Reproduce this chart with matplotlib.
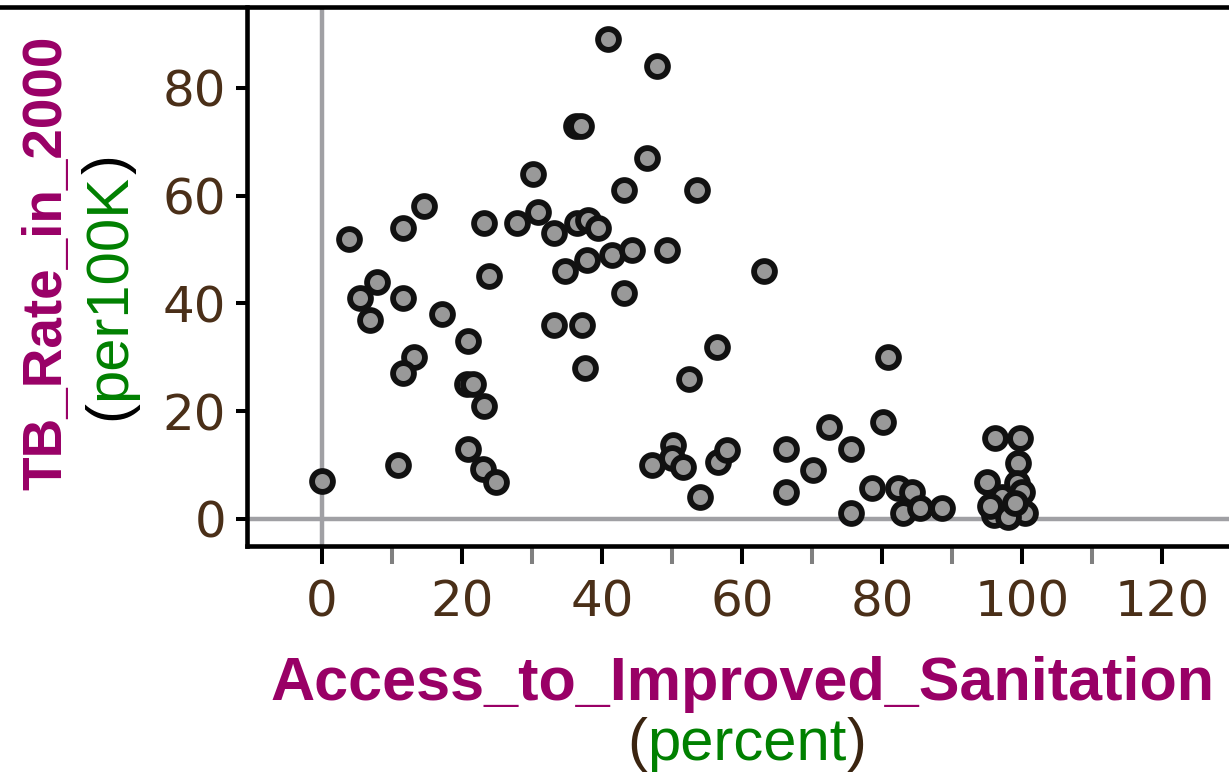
import matplotlib
matplotlib.use("Agg")
import matplotlib.pyplot as plt
from matplotlib.lines import Line2D
from matplotlib.ticker import FixedLocator

# ---- data ----
sanitation = [0, 3.9, 5.4, 7.8, 6.9, 11.6, 11.6, 14.6, 13.1, 11.6, 10.9, 17.1,
              20.9, 20.7, 21.6, 23.1, 20.9, 23.0, 24.9, 23.1, 23.9, 27.8, 30.1,
              30.9, 33.1, 33.1, 34.7, 36.3, 37.0, 36.4, 38.0, 39.4, 37.1, 37.6,
              37.8, 40.9, 41.4, 43.1, 43.1, 44.3, 46.4, 47.8, 47.1, 49.3, 50.1,
              50.0, 51.6, 52.4, 53.6, 54.0, 56.4, 56.6, 57.9, 63.1, 66.3, 66.3,
              70.1, 72.4, 75.6, 75.6, 78.6, 80.1, 80.9, 82.3, 84.3, 83.0, 85.4,
              88.6, 96.1, 99.7, 99.4, 95.0, 97.1, 100.4, 99.3, 100.0, 96.0, 98.0,
              95.5, 99.0]
tb_rate = [7, 52, 41, 44, 37, 54, 41, 58, 30, 27, 10, 38,
           33, 25, 25, 21, 13, 9.3, 6.9, 55, 45, 55, 64,
           57, 53, 36, 46, 73, 73, 55, 55.5, 54, 36, 28,
           48, 89, 49, 61, 42, 50, 67, 84, 10, 50, 13.7,
           11.3, 9.7, 26, 61, 4, 32, 10.6, 12.8, 46, 13, 5,
           9, 17, 13, 1.2, 5.8, 18, 30, 5.8, 5, 1.1, 2,
           2, 15, 15, 10.4, 6.9, 4.1, 1.1, 6.7, 5, 0.8, 0.3,
           2.5, 3]
x_ticks = [0, 20, 40, 60, 80, 100, 120]
x_minor_ticks = [10, 30, 50, 70, 90, 110]
y_ticks = [0, 20, 40, 60, 80]
x_title = "Access_to_Improved_Sanitation"
x_unit = "percent"
y_title = "TB_Rate_in_2000"
y_unit = "per100K"

PURPLE = "#990066"
GREEN = "#008000"
TICKCOL = "#4a2f18"

W, H = 1229, 776
fig = plt.figure(figsize=(W / 100, H / 100), dpi=100)


def fx(px):
    return px / W


def fy(py):
    return 1 - py / H


x0px, y0px = 322, 519      # pixel of data (0, 0)
sx, sy = 7.0, 5.39         # pixels per data unit
left_px, right_px, top_px, bot_px = 247, 1229, 7, 545.5

ax = fig.add_axes([fx(left_px), fy(bot_px), fx(right_px) - fx(left_px), fy(top_px) - fy(bot_px)])
ax.set_xlim((left_px - x0px) / sx, (right_px - x0px) / sx)
ax.set_ylim((y0px - bot_px) / sy, (y0px - top_px) / sy)

for s in ["top", "right"]:
    ax.spines[s].set_visible(False)
for s in ["left", "bottom"]:
    ax.spines[s].set_linewidth(3.3)
    ax.spines[s].set_color("black")

fig.add_artist(Line2D([0, 1], [fy(top_px)] * 2, transform=fig.transFigure,
                      color="black", lw=3.3))

ax.axvline(0, color="#a0a0a4", lw=3.2, zorder=1)
ax.axhline(0, color="#a0a0a4", lw=3.2, zorder=1)

ax.scatter(sanitation, tb_rate, s=15.0 ** 2, c="#999999", edgecolors="#111111",
           linewidths=4.2, zorder=3, clip_on=False)

ax.set_xticks(x_ticks)
ax.set_yticks(y_ticks)
ax.xaxis.set_minor_locator(FixedLocator(x_minor_ticks))
ax.tick_params(axis="x", which="major", length=13, width=2.9, color="black",
               pad=11, labelsize=36, labelcolor=TICKCOL)
ax.tick_params(axis="x", which="minor", length=13, width=2.9, color="#808080")
ax.tick_params(axis="y", which="major", length=8, width=2.9, color="black",
               pad=7, labelsize=36, labelcolor=TICKCOL)
for lab in ax.get_xticklabels() + ax.get_yticklabels():
    lab.set_fontfamily("DejaVu Sans")

renderer = fig.canvas.get_renderer()

# ---- x label ----
fig.text(fx(742), fy(700), x_title, ha="center", va="baseline", color=PURPLE,
         fontsize=44, fontweight="bold", family="Liberation Sans")


def hchain(parts, xpx, ypx, size):
    x = fx(xpx)
    for txt, col in parts:
        t = fig.text(x, fy(ypx), txt, ha="left", va="baseline", color=col,
                     fontsize=size, family="Liberation Sans")
        bb = t.get_window_extent(renderer)
        x = bb.x1 / W


def vchain(parts, xpx, ypx, size, weight="normal"):
    y = fy(ypx)
    for txt, col in parts:
        t = fig.text(fx(xpx), y, txt, ha="left", va="baseline", color=col,
                     fontsize=size, family="Liberation Sans", rotation=90,
                     rotation_mode="anchor", fontweight=weight)
        bb = t.get_window_extent(renderer)
        y = bb.y1 / H


hchain([("(", "#3a2410"), (x_unit, GREEN), (")", "#3a2410")], 627, 760, 43)

# ---- y label ----
vchain([(y_title, PURPLE)], 61, 490, 39.5, weight="bold")
vchain([("(", "black"), (y_unit, GREEN), (")", "black")], 125, 420, 43)

fig.savefig("out.png", dpi=100)
